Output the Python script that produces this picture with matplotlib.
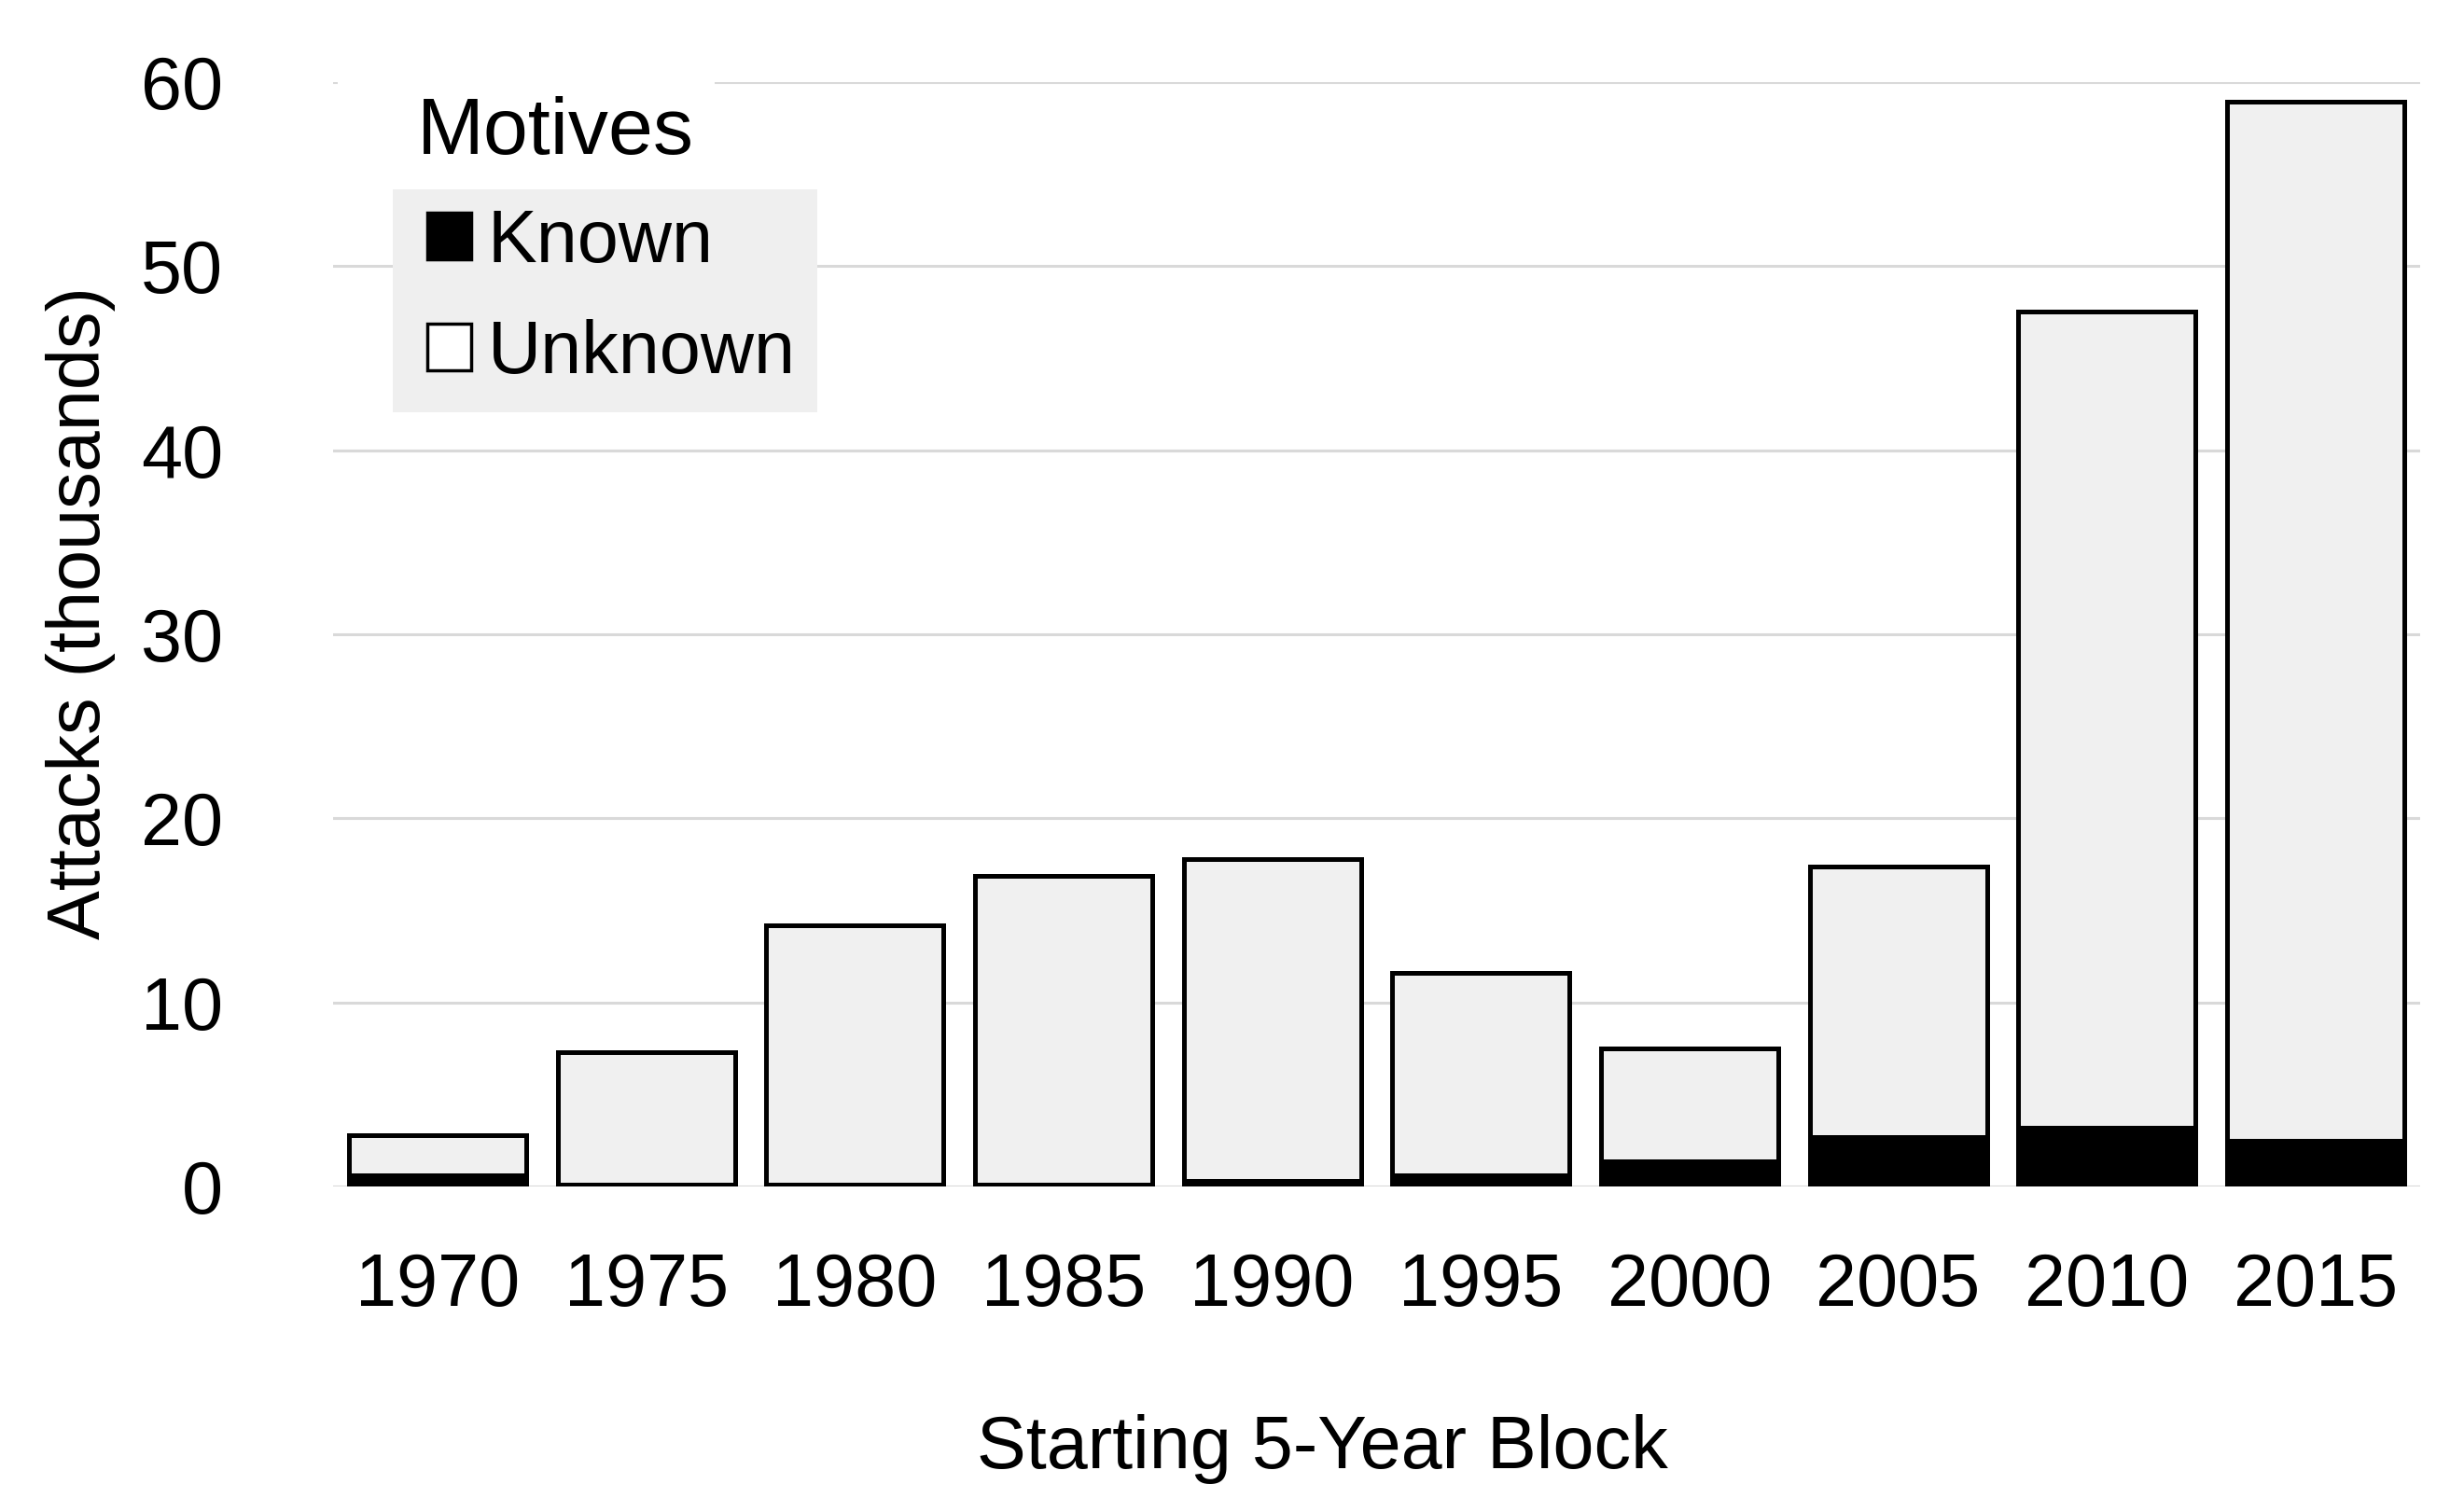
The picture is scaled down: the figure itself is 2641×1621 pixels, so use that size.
import numpy as np
import matplotlib
matplotlib.use("Agg")
import matplotlib.pyplot as plt
from matplotlib.patches import Rectangle, Patch

plt.rcParams["font.family"] = ["Liberation Sans", "DejaVu Sans"]

# Data (thousands of attacks per starting 5-year block)
blocks = ["1970", "1975", "1980", "1985", "1990", "1995", "2000", "2005", "2010", "2015"]
totals = [2.8, 7.3, 14.2, 16.9, 17.8, 11.6, 7.5, 17.4, 47.5, 58.9]
known = [0.6, 0.1, 0.1, 0.1, 0.3, 0.6, 1.4, 2.7, 3.2, 2.5]
unknown = [t - k for t, k in zip(totals, known)]

fig = plt.figure(figsize=(26.41, 16.21), dpi=100)
ax = fig.add_axes([0.1352, 0.2152, 0.8469, 0.7307])

x = np.arange(len(blocks))
edge_lw = 3.6
ax.bar(x, known, width=0.85, color="black", edgecolor="black", linewidth=edge_lw, zorder=3)
ax.bar(x, unknown, width=0.85, bottom=known, color="#f0f0f0", edgecolor="black",
       linewidth=edge_lw, zorder=3)

ax.set_xlim(-0.5, len(blocks) - 0.5)
ax.set_ylim(0, 60)
ax.set_yticks(np.arange(0, 61, 10))
ax.set_xticks(x)
ax.set_xticklabels(blocks)
ax.tick_params(axis="both", length=0, labelsize=57, colors="black")
ax.tick_params(axis="x", pad=50)
ax.tick_params(axis="y", pad=85)

for s in ax.spines.values():
    s.set_visible(False)
ax.yaxis.grid(True, color="#d9d9d9", linewidth=2.2, zorder=0)
ax.set_axisbelow(True)

ax.set_ylabel("Attacks (thousands)", fontsize=57)
ax.yaxis.set_label_coords(-0.104, 0.519)
ax.set_xlabel("Starting 5-Year Block", fontsize=57)
ax.xaxis.set_label_coords(0.474, -0.206)

# legend backgrounds: white behind title, light gray behind entries
ax.add_patch(Rectangle((0.002, 0.91), 0.181, 0.114, transform=ax.transAxes,
                       facecolor="white", edgecolor="none", zorder=4, clip_on=False))
ax.add_patch(Rectangle((0.0286, 0.701), 0.2034, 0.202, transform=ax.transAxes,
                       facecolor="#efefef", edgecolor="none", zorder=4, clip_on=False))
ax.text(0.040, 0.953, "Motives", transform=ax.transAxes, fontsize=62,
        ha="left", va="center", zorder=6)

handles = [Patch(facecolor="black", edgecolor="black", linewidth=2.5, label="Known"),
           Patch(facecolor="white", edgecolor="black", linewidth=2.5, label="Unknown")]
leg = ax.legend(handles=handles, loc="center left", bbox_to_anchor=(0.045, 0.804),
                frameon=False, fontsize=57, handlelength=0.6, handleheight=0.6,
                handletextpad=0.22, labelspacing=0.55, borderpad=0, borderaxespad=0)
leg.set_zorder(6)

fig.savefig("out.png", dpi=100)
